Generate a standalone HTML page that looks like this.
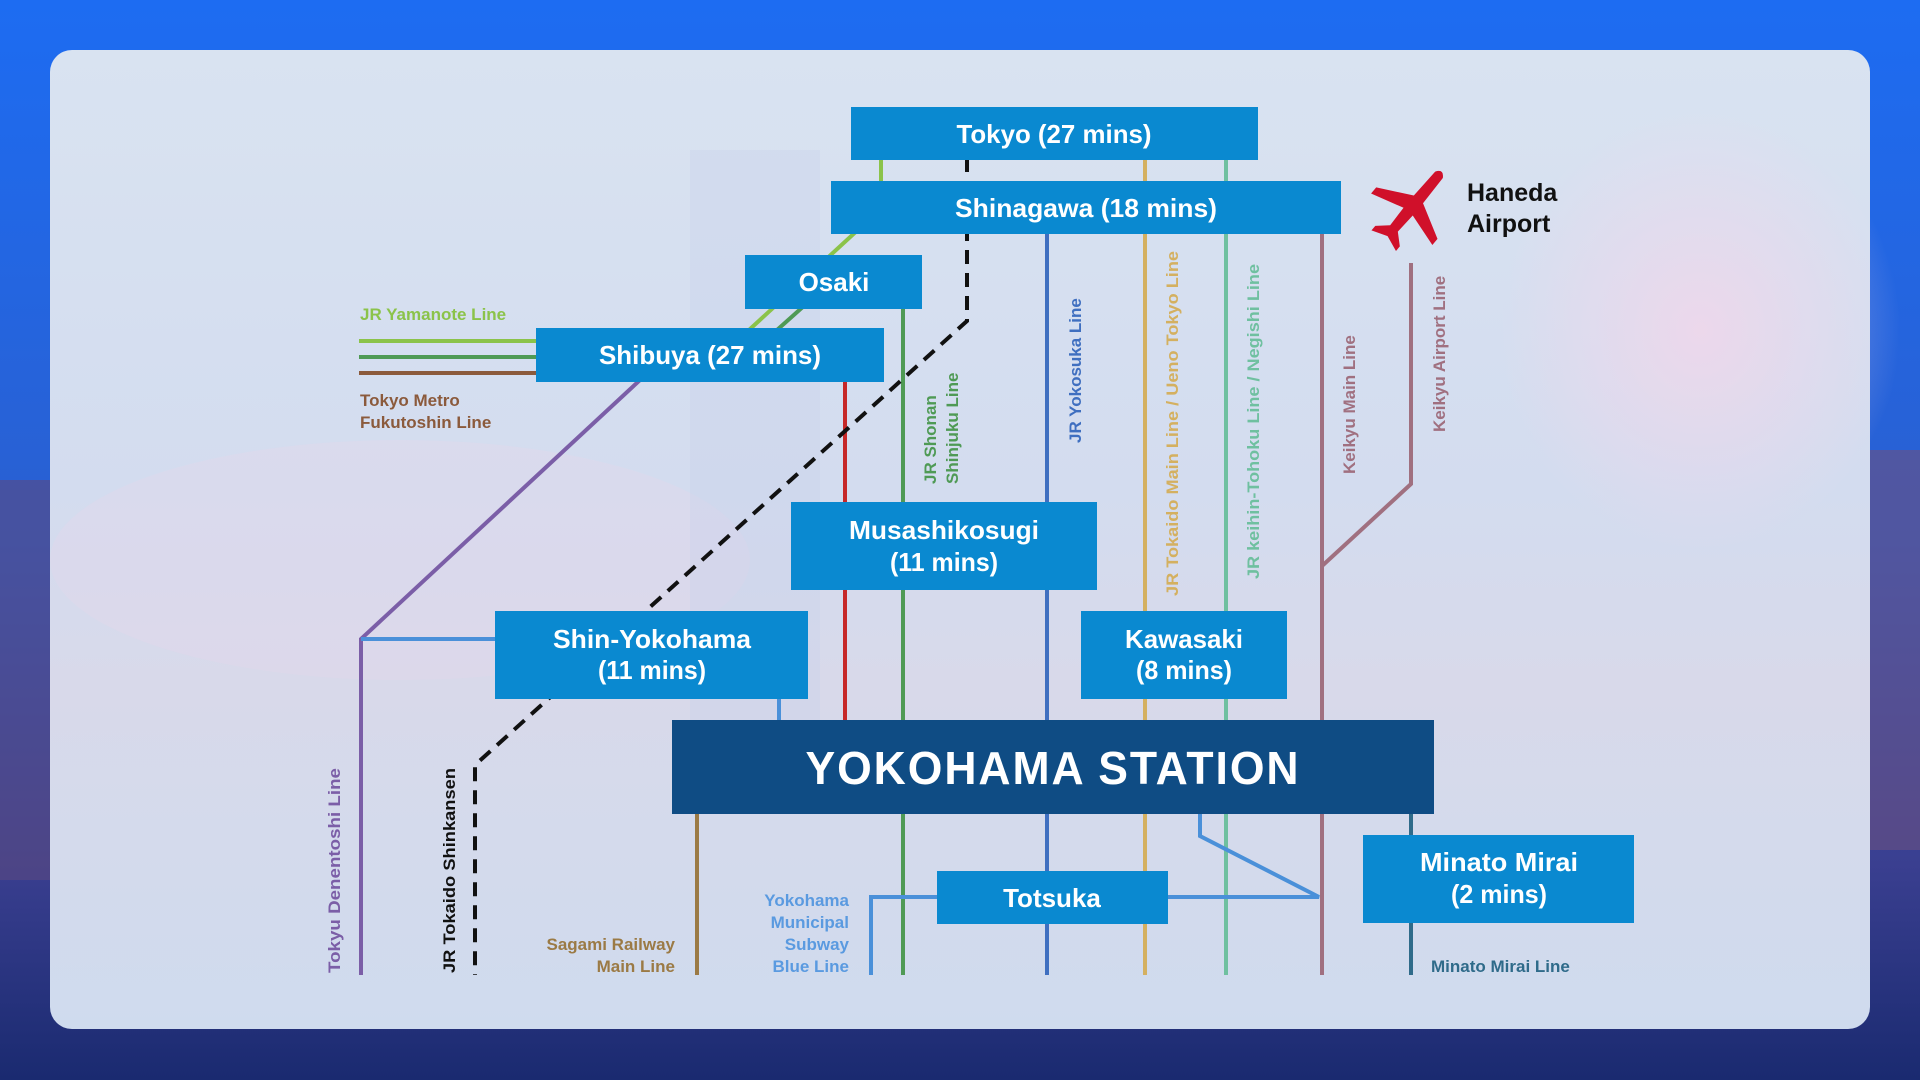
<!DOCTYPE html>
<html><head><meta charset="utf-8"><style>
html,body{margin:0;padding:0;width:1920px;height:1080px;overflow:hidden;background:#1f5fd8;}
svg{display:block}
text{font-family:"Liberation Sans",sans-serif;font-weight:bold}
</style></head><body>
<svg width="1920" height="1080" viewBox="0 0 1920 1080" xmlns="http://www.w3.org/2000/svg">
<defs>
<linearGradient id="bg" x1="0" y1="0" x2="0" y2="1">
<stop offset="0" stop-color="#1d6cf2"/><stop offset="0.5" stop-color="#2a5fd0"/><stop offset="0.8" stop-color="#3a3f90"/><stop offset="1" stop-color="#1a2a70"/></linearGradient>
<linearGradient id="card" x1="0" y1="0" x2="0" y2="1">
<stop offset="0" stop-color="#d9e3f1"/><stop offset="0.45" stop-color="#d3dcef"/><stop offset="0.65" stop-color="#d8d9ea"/><stop offset="1" stop-color="#cfdbee"/></linearGradient>
<radialGradient id="pink" cx="0.5" cy="0.5" r="0.5"><stop offset="0" stop-color="#f2d6ea" stop-opacity="0.8"/><stop offset="1" stop-color="#f2d6ea" stop-opacity="0"/></radialGradient>
</defs>
<rect width="1920" height="1080" fill="url(#bg)"/>
<rect x="0" y="480" width="60" height="400" fill="#5a4a80" opacity="0.6"/>
<rect x="1860" y="450" width="60" height="400" fill="#6a5080" opacity="0.6"/>
<rect x="50" y="50" width="1820" height="979" rx="22" fill="url(#card)"/>
<ellipse cx="1700" cy="330" rx="200" ry="220" fill="url(#pink)"/>
<ellipse cx="400" cy="560" rx="350" ry="120" fill="#e6d8ea" opacity="0.35"/>
<rect x="690" y="150" width="130" height="600" fill="#c8d2ea" opacity="0.35"/>

<g fill="none" stroke-width="4">
<!-- Yamanote -->
<path d="M359 341 H540" stroke="#8bc34a"/>
<path d="M749 330 L860 228 L881 200 V158" stroke="#8bc34a"/>
<!-- Shonan Shinjuku -->
<path d="M359 357 H540" stroke="#4f9a55"/>
<path d="M777 330 L805 305 L903 305 V975" stroke="#4f9a55"/>
<!-- Fukutoshin -->
<path d="M359 373 H540" stroke="#8b5a3c"/>
<path d="M845 380 V722" stroke="#c62828"/>
<!-- Denentoshi -->
<path d="M640 380 L361 639 V975" stroke="#7b5ea7"/>
<path d="M361 639 H500" stroke="#4a90d9"/>
<path d="M779 697 V722" stroke="#4a90d9"/>
<!-- Yokosuka -->
<path d="M1047 232 V975" stroke="#3f6fc0"/>
<!-- Tokaido -->
<path d="M1145 158 V975" stroke="#d4b060"/>
<!-- Keihin -->
<path d="M1226 158 V975" stroke="#6fc0a0"/>
<!-- Keikyu main -->
<path d="M1322 232 V975" stroke="#a07080"/>
<!-- Keikyu airport -->
<path d="M1411 263 V484 L1322 566" stroke="#a07080"/>
<!-- Sagami -->
<path d="M697 812 V975" stroke="#9b7a45"/>
<!-- Blue line -->
<path d="M1200 812 V836 L1319 897 H871 V975" stroke="#4a90d9"/>
<!-- Minato Mirai -->
<path d="M1411 812 V975" stroke="#2f6b8a"/>
<!-- Shinkansen -->
<path d="M967 158 V321 L475 765 V975" stroke="#111" stroke-dasharray="14 9"/>
</g>

<g fill="#0a89d0">
<rect x="851" y="107" width="407" height="53"/>
<rect x="831" y="181" width="510" height="53"/>
<rect x="745" y="255" width="177" height="54"/>
<rect x="536" y="328" width="348" height="54"/>
<rect x="791" y="502" width="306" height="88"/>
<rect x="495" y="611" width="313" height="88"/>
<rect x="1081" y="611" width="206" height="88"/>
<rect x="937" y="871" width="231" height="53"/>
<rect x="1363" y="835" width="271" height="88"/>
</g>
<rect x="672" y="720" width="762" height="94" fill="#0f4c84"/>

<g fill="#fff" font-size="26" text-anchor="middle">
<text x="1054" y="143" textLength="195" lengthAdjust="spacingAndGlyphs">Tokyo (27 mins)</text>
<text x="1086" y="217" textLength="262" lengthAdjust="spacingAndGlyphs">Shinagawa (18 mins)</text>
<text x="834" y="291">Osaki</text>
<text x="710" y="364" textLength="222" lengthAdjust="spacingAndGlyphs">Shibuya (27 mins)</text>
<text x="944" y="539" textLength="190" lengthAdjust="spacingAndGlyphs">Musashikosugi</text>
<text x="944" y="571" textLength="108" lengthAdjust="spacingAndGlyphs">(11 mins)</text>
<text x="652" y="648" textLength="198" lengthAdjust="spacingAndGlyphs">Shin-Yokohama</text>
<text x="652" y="679" textLength="108" lengthAdjust="spacingAndGlyphs">(11 mins)</text>
<text x="1184" y="648" textLength="118" lengthAdjust="spacingAndGlyphs">Kawasaki</text>
<text x="1184" y="679" textLength="96" lengthAdjust="spacingAndGlyphs">(8 mins)</text>
<text x="1052" y="907">Totsuka</text>
<text x="1499" y="871" textLength="158" lengthAdjust="spacingAndGlyphs">Minato Mirai</text>
<text x="1499" y="903" textLength="96" lengthAdjust="spacingAndGlyphs">(2 mins)</text>
<text x="1053" y="784" font-size="46" letter-spacing="2" textLength="495" lengthAdjust="spacingAndGlyphs">YOKOHAMA STATION</text>
</g>

<g font-size="17">
<text x="360" y="320" fill="#8bc34a">JR Yamanote Line</text>
<text x="360" y="406" fill="#8b5a3c">Tokyo Metro</text>
<text x="360" y="428" fill="#8b5a3c">Fukutoshin Line</text>
<g text-anchor="end">
<text x="675" y="950" fill="#9b7a45">Sagami Railway</text>
<text x="675" y="972" fill="#9b7a45">Main Line</text>
<text x="849" y="906" fill="#5a9ae0">Yokohama</text>
<text x="849" y="928" fill="#5a9ae0">Municipal</text>
<text x="849" y="950" fill="#5a9ae0">Subway</text>
<text x="849" y="972" fill="#5a9ae0">Blue Line</text>
</g>
<text x="1431" y="972" fill="#2f6b8a">Minato Mirai Line</text>
</g>

<g font-size="17">
<text transform="translate(936,484) rotate(-90)" fill="#4f9a55">JR Shonan</text>
<text transform="translate(958,484) rotate(-90)" fill="#4f9a55">Shinjuku Line</text>
<text transform="translate(1081,443) rotate(-90)" fill="#3f6fc0">JR Yokosuka Line</text>
<text transform="translate(1178,596) rotate(-90)" fill="#d4b060" textLength="345" lengthAdjust="spacingAndGlyphs">JR Tokaido Main Line / Ueno Tokyo Line</text>
<text transform="translate(1259,579) rotate(-90)" fill="#6fc0a0" textLength="315" lengthAdjust="spacingAndGlyphs">JR keihin-Tohoku Line / Negishi Line</text>
<text transform="translate(1355,474) rotate(-90)" fill="#a07080">Keikyu Main Line</text>
<text transform="translate(1445,432) rotate(-90)" fill="#a07080">Keikyu Airport Line</text>
<text transform="translate(340,973) rotate(-90)" fill="#7b5ea7" textLength="205" lengthAdjust="spacingAndGlyphs">Tokyu Denentoshi Line</text>
<text transform="translate(455,973) rotate(-90)" fill="#111" textLength="205" lengthAdjust="spacingAndGlyphs">JR Tokaido Shinkansen</text>
</g>

<!-- plane -->
<g transform="translate(1412,207) rotate(40)" fill="#d0102a">
<path d="M-5 -42 Q0 -50 5 -42 L6 -10 L40 8 L40 16 L6 6 L5 28 L16 38 L16 44 L0 38 L-16 44 L-16 38 L-5 28 L-6 6 L-40 16 L-40 8 L-6 -10 Z"/>
</g>
<text x="1467" y="201" font-size="25" fill="#111">Haneda</text>
<text x="1467" y="232" font-size="25" fill="#111">Airport</text>
</svg>
</body></html>
